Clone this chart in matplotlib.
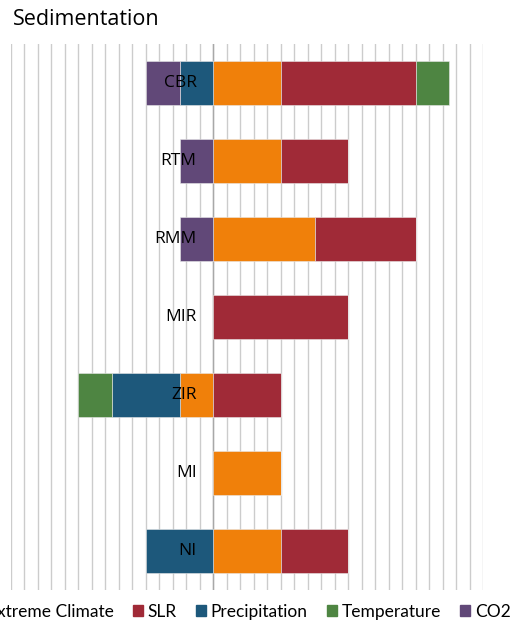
import numpy as np
import matplotlib.pyplot as plt
from matplotlib.patches import Patch

plt.rcParams['font.family'] = ['Open Sans', 'DejaVu Sans']

categories = ['CBR', 'RTM', 'RMM', 'MIR', 'ZIR', 'MI', 'NI']
series_names = ['Extreme Climate', 'SLR', 'Precipitation', 'Temperature', 'CO2']
extreme_climate = [1, 1, 1.5, 0, -0.5, 1, 1]
slr = [2, 1, 1.5, 2, 1, 0, 1]
precipitation = [-0.5, 0, 0, 0, -1, 0, -1]
temperature = [0.5, 0, 0, 0, -0.5, 0, 0]
co2 = [-0.5, -0.5, -0.5, 0, 0, 0, 0]
colors = ['#F0800A', '#A02A37', '#1D587B', '#4E8542', '#614878']

series = [extreme_climate, slr, precipitation, temperature, co2]

fig = plt.figure(figsize=(5.19, 6.22), dpi=100)
ax = fig.add_axes([0.021, 0.0514, 0.91, 0.878])

y = np.arange(len(categories))
pos = np.zeros(len(categories))
neg = np.zeros(len(categories))
for vals, col in zip(series, colors):
    vals = np.array(vals, dtype=float)
    left = np.where(vals >= 0, pos, neg)
    ax.barh(y, vals, left=left, height=0.57, color=col, edgecolor='#e8e8e8',
            linewidth=0.4, zorder=2)
    pos += np.where(vals > 0, vals, 0)
    neg += np.where(vals < 0, vals, 0)

ax.set_xlim(-3, 4)
ax.set_ylim(-0.5, 6.5)
ax.invert_yaxis()

ax.set_xticks(np.arange(-3, 4.001, 0.2))
ax.xaxis.set_ticklabels([])
ax.tick_params(axis='x', length=0)
ax.grid(axis='x', color='#cccccc', linewidth=1, zorder=0)
ax.axvline(0, color='#a8a8a8', linewidth=1, zorder=1)
ax.set_axisbelow(True)

for s in ax.spines.values():
    s.set_visible(False)
ax.set_yticks([])
# category labels drawn on top of the bars, just left of zero
for yi, name in zip(y, categories):
    ax.annotate(name, xy=(0, yi), xytext=(-12, 0), textcoords='offset points',
                ha='right', va='center', fontsize=12.5, zorder=5)

fig.text(0.025, 0.968, 'Sedimentation', fontsize=15.5, ha='left', va='center')

handles = [Patch(color=c) for c in colors]
fig.legend(handles, series_names, loc='center', bbox_to_anchor=(0.465, 0.016),
           ncol=5, frameon=False, prop={'family': 'Lato', 'size': 12.5},
           handlelength=0.6, handleheight=0.6, handletextpad=0.25,
           columnspacing=1.1, borderpad=0)

fig.savefig('out.png', dpi=100)
